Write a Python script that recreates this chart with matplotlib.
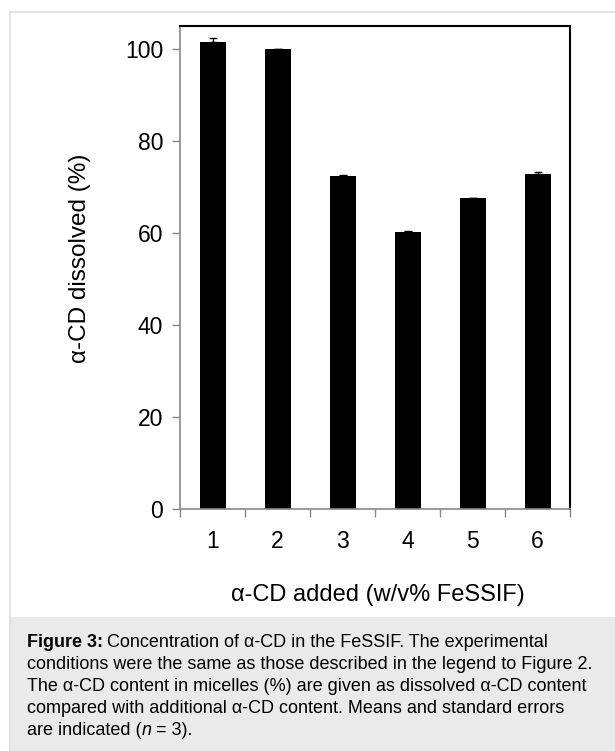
import numpy as np
import matplotlib.pyplot as plt
from matplotlib.patches import Rectangle
from matplotlib.lines import Line2D

# values
categories = ["1", "2", "3", "4", "5", "6"]
dissolved = [101.5, 99.9, 72.4, 60.3, 67.5, 72.9]
sem = [0.8, 0.2, 0.3, 0.2, 0.2, 0.3]

y_ticks = [0, 20, 40, 60, 80, 100]
x_label = "α-CD added (w/v% FeSSIF)"
y_label = "α-CD dissolved (%)"
# caption lines as (text, style) runs
caption = [
    [("Figure 3:", "bold"), (" Concentration of α-CD in the FeSSIF. The experimental", "normal")],
    [("conditions were the same as those described in the legend to Figure 2.", "normal")],
    [("The α-CD content in micelles (%) are given as dissolved α-CD content", "normal")],
    [("compared with additional α-CD content. Means and standard errors", "normal")],
    [("are indicated (", "normal"), ("n", "italic"), (" = 3).", "normal")],
]

plt.rcParams["font.family"] = ["Liberation Sans", "DejaVu Sans"]

W, H = 615, 751
fig = plt.figure(figsize=(W / 100, H / 100), dpi=100)

def fx(px):
    return px / W

def fy(py):
    return 1 - py / H

# card outline and caption box
fig.add_artist(Line2D([fx(10), fx(10)], [fy(12), fy(751)], color="#dddddd", lw=1.2))
fig.add_artist(Line2D([fx(10), fx(615)], [fy(12), fy(12)], color="#dddddd", lw=1.2))
fig.add_artist(Rectangle((fx(10.5), 0), fx(615), fy(617), color="#eaeaea", lw=0))

ax = fig.add_axes([fx(180), fy(509), fx(570) - fx(180), fy(26) - fy(509)])
x = np.arange(1, len(categories) + 1)
ax.bar(x, dissolved, width=0.4, color="black", zorder=2)
ax.errorbar(x, dissolved, yerr=[np.zeros(len(sem)), sem], fmt="none",
            ecolor="black", elinewidth=1, capsize=3, capthick=1, zorder=3)

ax.set_xlim(0.5, 6.5)
ax.set_ylim(0, 105)
ax.set_yticks(y_ticks)
ax.set_yticklabels([str(v) for v in y_ticks], fontsize=16.5)
ax.set_xticks(x)
ax.set_xticklabels(categories, fontsize=16.5)
ax.set_xticks(np.arange(0.5, 7, 1), minor=True)
ax.tick_params(axis="x", which="major", length=0, pad=15)
ax.tick_params(axis="x", which="minor", length=6, color="#888888", width=1)
ax.tick_params(axis="y", length=6, color="#888888", width=1, pad=6)

for s in ["left", "bottom"]:
    ax.spines[s].set_color("#888888")
    ax.spines[s].set_linewidth(1.2)
for s in ["top", "right"]:
    ax.spines[s].set_color("black")
    ax.spines[s].set_linewidth(1.5)

fig.text(fx(378), fy(595), x_label, fontsize=17, ha="center", va="center")
fig.text(fx(80), fy(258), y_label, fontsize=17.5, ha="center", va="center", rotation=90)

# caption, run by run so bold/italic parts sit inline
renderer = fig.canvas.get_renderer()
for i, runs in enumerate(caption):
    xpos = 27
    for txt, style in runs:
        kw = {"weight": "bold"} if style == "bold" else {}
        if style == "italic":
            kw = {"style": "italic"}
        t = fig.text(fx(xpos), fy(647 + 22 * i), txt, fontsize=13,
                     ha="left", va="baseline", **kw)
        # leading/trailing spaces are not measured reliably, so add them by hand
        ext = t.get_window_extent(renderer)
        xpos = ext.x1 + (4 if txt.endswith(" ") else 0)
        if txt.startswith(" "):
            t.set_text(txt.lstrip())
            t.set_x(fx(ext.x0 + 4))
            xpos = t.get_window_extent(renderer).x1

fig.savefig("out.png", dpi=100)
